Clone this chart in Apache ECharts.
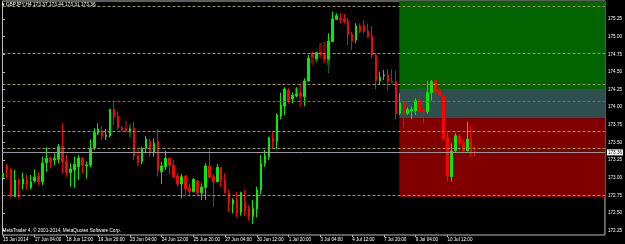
<!DOCTYPE html>
<html><head><meta charset="utf-8">
<script src="https://cdn.jsdelivr.net/npm/echarts@6/dist/echarts.min.js"></script>
<style>html,body{margin:0;padding:0;background:#000;}#c{width:625px;height:244px;}</style>
</head><body><div id="c"></div>
<script>
// ---- text ----
const headerText = "GBPJPY,H4 173.37 173.44 173.31 173.36";
const copyrightText = "MetaTrader 4, \u00a9 2001-2014, MetaQuotes Software Corp.";

// ---- time axis labels (bar index -> label) ----
const xLabelBars = [0, 8, 16, 24, 32, 40, 48, 56, 64, 72, 80, 88, 96, 104, 112];
const xLabelTexts = ["15 Jun 2014", "17 Jun 04:00", "18 Jun 12:00", "19 Jun 20:00", "23 Jun 04:00",
  "24 Jun 12:00", "25 Jun 20:00", "27 Jun 04:00", "30 Jun 12:00", "1 Jul 20:00", "3 Jul 04:00",
  "4 Jul 12:00", "7 Jul 20:00", "9 Jul 04:00", "10 Jul 12:00"];

// ---- price axis ticks ----
const yTicks = [172.25, 172.5, 172.75, 173.0, 173.25, 173.5, 173.75, 174.0, 174.25, 174.5, 174.75, 175.0, 175.25];

// ---- H4 candles ----
const openPrices = [173.006,173.167,173.120,172.732,172.968,172.912,172.968,172.860,172.954,173.025,
172.945,173.214,173.280,173.252,173.261,173.441,173.228,173.072,173.110,173.157,
173.280,173.167,173.181,173.427,173.630,173.663,173.583,173.592,173.970,173.875,
173.710,173.691,173.663,173.701,173.309,173.228,173.417,173.521,173.356,173.512,
173.086,173.157,173.275,173.176,173.025,172.912,173.025,172.855,172.803,172.954,
172.789,172.864,173.167,173.016,172.945,173.148,172.968,172.789,172.628,172.685,
172.510,172.661,172.557,172.449,172.557,172.827,173.205,173.299,173.568,173.512,
173.875,174.017,174.244,174.116,174.159,174.197,174.149,174.371,174.763,174.693,
174.773,174.749,174.683,174.929,175.245,175.260,175.250,175.222,175.033,174.952,
175.151,175.160,175.080,175.009,174.740,174.376,174.442,174.456,174.367,174.362,
173.913,174.079,173.913,173.946,173.951,174.093,173.960,173.937,174.206,174.376,
174.234,174.164,173.573,173.016,173.384,173.592,173.497,173.384,173.549,173.370];
const closePrices = [173.063,173.110,172.732,172.968,172.912,172.983,172.912,172.945,173.006,172.945,
173.205,173.275,173.224,173.271,173.441,173.228,173.072,173.124,173.190,173.280,
173.181,173.181,173.417,173.639,173.691,173.583,173.606,173.970,173.866,173.710,
173.677,173.668,173.691,173.309,173.228,173.417,173.549,173.370,173.488,173.101,
173.167,173.275,173.176,173.016,172.912,173.016,172.846,172.803,172.978,172.789,
172.869,173.167,173.006,172.945,173.148,172.968,172.789,172.638,172.685,172.496,
172.789,172.534,172.458,172.567,172.827,173.205,173.309,173.568,173.512,173.890,
174.031,174.258,174.088,174.173,174.187,174.159,174.371,174.693,174.716,174.773,
174.754,174.683,174.938,175.250,175.297,175.236,175.212,175.023,174.938,175.151,
175.071,175.071,175.000,174.740,174.376,174.423,174.456,174.362,174.353,173.904,
174.064,173.913,173.970,173.970,174.093,173.946,173.932,174.211,174.362,174.220,
174.164,173.559,173.025,173.379,173.597,173.488,173.379,173.549,173.346,173.360];
const lowPrices = [172.997,172.992,172.723,172.728,172.709,172.836,172.836,172.836,172.931,172.898,
172.898,173.086,173.134,173.181,173.205,173.063,173.016,172.874,172.860,172.968,
173.063,172.992,173.148,173.394,173.606,173.535,173.535,173.568,173.748,173.677,
173.663,173.653,173.653,173.252,173.205,173.190,173.346,173.299,173.299,173.016,
172.912,173.110,173.039,172.992,172.874,172.709,172.756,172.732,172.794,172.742,
172.685,172.685,172.992,172.590,172.931,172.874,172.779,172.510,172.496,172.439,
172.463,172.458,172.392,172.345,172.439,172.765,173.157,173.252,173.417,173.408,
173.828,173.890,174.055,174.055,174.140,174.140,174.017,174.367,174.707,174.678,
174.740,174.669,174.669,174.929,175.236,175.189,175.189,174.882,174.811,174.905,
175.047,175.047,174.986,174.693,174.253,174.315,174.386,174.244,174.338,173.828,
173.890,173.701,173.890,173.828,173.890,173.913,173.771,173.904,174.093,174.149,
174.149,173.535,172.945,172.945,173.370,173.370,173.356,173.370,173.299,173.310];
const highPrices = [173.072,173.195,173.134,173.110,172.992,173.072,173.039,173.039,173.120,173.080,
173.299,173.431,173.299,173.346,173.479,173.771,173.323,173.205,173.299,173.323,
173.290,173.228,173.545,173.701,173.771,173.734,173.691,173.975,174.079,173.937,
173.734,173.701,173.701,173.795,173.323,173.441,173.592,173.559,173.559,173.691,
173.228,173.384,173.290,173.252,173.063,173.053,173.039,172.921,172.992,172.968,
172.921,173.205,173.427,173.053,173.195,173.150,173.063,172.836,172.709,172.803,
172.803,172.827,172.614,172.685,172.874,173.323,173.394,173.583,173.653,173.913,
174.206,174.282,174.267,174.211,174.282,174.220,174.409,174.740,174.787,174.787,
174.787,174.763,175.047,175.354,175.330,175.330,175.321,175.260,175.071,175.189,
175.189,175.236,175.189,175.151,174.763,174.504,174.527,174.541,174.537,174.518,
174.197,174.079,173.998,174.008,174.126,174.197,173.984,174.376,174.386,174.386,
174.268,174.197,173.653,173.488,173.630,173.620,173.535,173.795,173.734,173.440];

// ---- dim overlay candles ----
const darkIndex = [31, 32, 34, 74, 75, 78, 79, 80, 81, 82];
const darkOpen  = [173.80, 173.58, 173.40, 174.16, 174.33, 174.77, 174.65, 174.90, 174.92, 174.60];
const darkClose = [173.67, 173.75, 173.17, 174.27, 174.02, 174.61, 174.70, 174.70, 174.63, 174.68];
const darkLow   = [173.65, 173.57, 173.16, 174.15, 174.00, 174.60, 174.63, 174.69, 174.62, 174.48];
const darkHigh  = [173.81, 173.76, 173.42, 174.28, 174.35, 174.79, 174.72, 174.91, 174.93, 174.70];

// ---- horizontal levels ----
const levelPrices = [175.434, 174.764, 174.333, 173.658, 173.417, 172.746];
const magentaLevel = 174.084;
const bidPrice = 173.36;
const bidText = "173.36";

// ---- zones (rectangles) ----
const zoneStartBar = 99.87;
const greenZone = [174.258, 175.505];
const tealZone = [173.847, 174.258];
const redZone = [172.727, 173.847];

const X_MIN = -0.126, X_MAX = 151.698, Y_MIN = 172.1888, Y_MAX = 175.505;
const FONT = 'Liberation Sans';

const mainData = openPrices.map((o, i) => [i, o, closePrices[i], lowPrices[i], highPrices[i]]);
const darkData = darkIndex.map((b, k) => [b, darkOpen[k], darkClose[k], darkLow[k], darkHigh[k]]);

const chart = echarts.init(document.getElementById('c'), null, {renderer: 'canvas'});
const dashStyle = {color: '#9c9650', width: 1, type: [3, 2]};
chart.setOption({
  backgroundColor: '#000000',
  animation: false,
  textStyle: {fontFamily: FONT},
  title: [
    {text: '\u25be ' + headerText, left: 1.5, top: 2, padding: 0,
     textStyle: {color: '#ffffff', fontSize: 4.8, fontWeight: 'normal', fontFamily: FONT}},
    {text: copyrightText, left: 2.5, top: 228.6, padding: 0,
     textStyle: {color: '#ffffff', fontSize: 4.7, fontWeight: 'normal', fontFamily: FONT}}
  ],
  grid: {left: 1.5, top: 1, width: 603.5, height: 234, show: true,
         borderColor: '#bdbdbd', borderWidth: 1, backgroundColor: 'transparent'},
  xAxis: {
    type: 'value', min: X_MIN, max: X_MAX,
    axisLine: {show: false}, splitLine: {show: false},
    axisTick: {show: true, customValues: xLabelBars, length: 2, lineStyle: {color: '#bdbdbd'}},
    axisLabel: {customValues: xLabelBars, align: 'left', color: '#ffffff', fontSize: 4.6, margin: 2,
      fontFamily: FONT,
      formatter: v => { const k = xLabelBars.indexOf(Math.round(v)); return k >= 0 ? xLabelTexts[k] : ''; }}
  },
  yAxis: {
    type: 'value', position: 'right', min: Y_MIN, max: Y_MAX, scale: true,
    axisLine: {show: false}, splitLine: {show: false},
    axisTick: {show: true, customValues: yTicks, length: 2, lineStyle: {color: '#bdbdbd'}},
    axisLabel: {customValues: yTicks, color: '#ffffff', fontSize: 4.6, margin: 3, fontFamily: FONT,
      formatter: v => v.toFixed(2)}
  },
  series: [
    {
      type: 'candlestick', name: 'overlay', z: 2, clip: true,
      encode: {x: 0, y: [1, 2, 3, 4]},
      data: darkData, barWidth: 2,
      itemStyle: {color: '#006a00', color0: '#8a0000', borderColor: '#006a00', borderColor0: '#8a0000', borderWidth: 1},
      markArea: {
        silent: true, label: {show: false},
        data: [
          [{xAxis: zoneStartBar, yAxis: greenZone[0], itemStyle: {color: '#006400', opacity: 1}}, {xAxis: X_MAX, yAxis: greenZone[1]}],
          [{xAxis: zoneStartBar, yAxis: tealZone[0], itemStyle: {color: '#2f4f4f', opacity: 1}}, {xAxis: X_MAX, yAxis: tealZone[1]}],
          [{xAxis: zoneStartBar, yAxis: redZone[0], itemStyle: {color: '#800000', opacity: 1}}, {xAxis: X_MAX, yAxis: redZone[1]}]
        ]
      }
    },
    {
      type: 'candlestick', name: 'GBPJPY,H4', z: 3, clip: true,
      encode: {x: 0, y: [1, 2, 3, 4]},
      data: mainData, barWidth: 2,
      itemStyle: {color: '#00ee00', color0: '#ff0000', borderColor: '#00ee00', borderColor0: '#ff0000', borderWidth: 1},
      markLine: {
        silent: true, symbol: ['none', 'none'], animation: false,
        data: levelPrices.map(p => ({yAxis: p, lineStyle: dashStyle, label: {show: false}}))
          .concat([
            {yAxis: magentaLevel, lineStyle: {color: '#b23cb2', width: 1, type: [3, 2]}, label: {show: false}},
            {yAxis: bidPrice, lineStyle: {color: '#9a9a9a', width: 1, type: 'solid'},
             label: {show: true, position: 'end', formatter: bidText, color: '#000000',
                     backgroundColor: '#ffffff', fontSize: 4.6, fontFamily: FONT, padding: [1, 1, 0, 1], distance: 2}}
          ])
      }
    }
  ]
});
</script>
</body></html>
